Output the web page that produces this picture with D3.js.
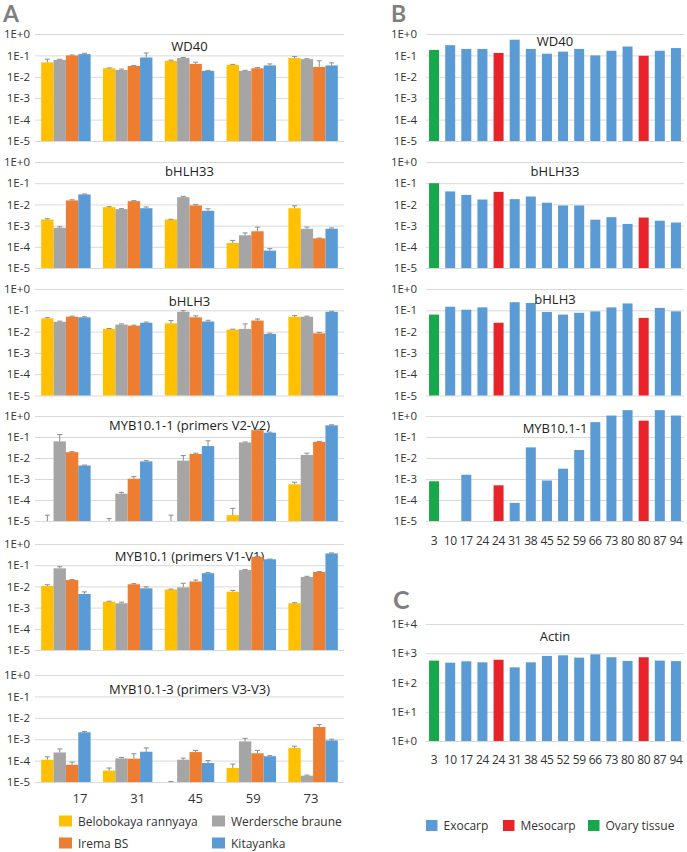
<!DOCTYPE html>
<html><head><meta charset="utf-8">
<script src="https://cdn.jsdelivr.net/npm/d3@7"></script>
<style>body{margin:0;background:#fff;}svg{display:block;font-family:"Open Sans",sans-serif;}</style>
</head><body><svg id="c" width="687" height="852"></svg>
<script>
// ---------- DATA ----------
const stagesA = ["17","31","45","59","73"];
const cultivars = ["Belobokaya rannyaya","Werdersche braune","Irema BS","Kitayanka"];
const tickLabelsA = ["1E+0","1E-1","1E-2","1E-3","1E-4","1E-5"];
const tickValuesA = [1,1e-1,1e-2,1e-3,1e-4,1e-5];
const genesA = ["WD40","bHLH33","bHLH3","MYB10.1-1 (primers V2-V2)","MYB10.1 (primers V1-V1)","MYB10.1-3 (primers V3-V3)"];
// rows: stage, columns: cultivar (value)
const A_WD40 = [[0.047,0.062,0.099,0.115],[0.025,0.021,0.032,0.08],[0.056,0.075,0.04,0.019],[0.036,0.019,0.025,0.034],[0.075,0.067,0.029,0.034]];
const A_WD40_err = [[0.067,0.066,0.104,0.125],[0.026,0.023,0.034,0.13],[0.06,0.08,0.048,0.02],[0.038,0.02,0.027,0.04],[0.088,0.07,0.056,0.045]];
const A_bHLH33 = [[0.00195,0.00079,0.0154,0.0295],[0.0074,0.006,0.0142,0.0066],[0.00195,0.022,0.0089,0.005],[0.000151,0.00035,0.00054,0.000066],[0.0066,0.00071,0.00025,0.00071]];
const A_bHLH33_err = [[0.0021,0.00088,0.0165,0.031],[0.0078,0.0063,0.015,0.0076],[0.002,0.024,0.0098,0.0062],[0.0002,0.00045,0.00085,0.000082],[0.0086,0.00085,0.00026,0.00078]];
const A_bHLH3 = [[0.042,0.029,0.05,0.047],[0.0134,0.0213,0.019,0.026],[0.0245,0.085,0.047,0.03],[0.0124,0.0134,0.033,0.0078],[0.049,0.05,0.0083,0.085]];
const A_bHLH3_err = [[0.045,0.031,0.053,0.05],[0.014,0.023,0.02,0.028],[0.033,0.095,0.055,0.034],[0.013,0.023,0.039,0.0084],[0.056,0.053,0.0092,0.09]];
const A_MYB11 = [[0,0.062,0.019,0.0044],[0,0.0002,0.00103,0.0069],[0,0.0075,0.0155,0.037],[0.000019,0.055,0.21,0.16],[0.00056,0.014,0.059,0.36]];
const A_MYB11_err = [[0.000019,0.13,0.02,0.0046],[0.000013,0.00023,0.0013,0.0075],[0.000019,0.013,0.017,0.066],[0.00004,0.058,0.22,0.17],[0.0007,0.017,0.062,0.38]];
const A_MYB1 = [[0.0105,0.071,0.02,0.0044],[0.0019,0.0016,0.0126,0.0081],[0.0072,0.009,0.017,0.042],[0.0056,0.059,0.25,0.19],[0.0016,0.028,0.048,0.36]];
const A_MYB1_err = [[0.012,0.085,0.021,0.0055],[0.002,0.0018,0.0135,0.0095],[0.0075,0.014,0.02,0.045],[0.0065,0.062,0.26,0.195],[0.0017,0.03,0.05,0.38]];
const A_MYB13 = [[0.00011,0.00024,0.000064,0.0021],[0.000034,0.000126,0.000123,0.00026],[0,0.00011,0.00025,0.000077],[0.000045,0.00079,0.00022,0.00016],[0.00039,0.0000197,0.0037,0.00088]];
const A_MYB13_err = [[0.00015,0.00035,0.000085,0.0023],[0.000045,0.00014,0.00021,0.00039],[0.0000105,0.00013,0.0003,0.0001],[0.000069,0.0011,0.0003,0.00017],[0.00047,0.000021,0.0048,0.001]];

const stagesB = ["3","10","17","24","24","31","38","45","52","59","66","73","80","80","87","94"];
const tissueB = ["Ovary tissue","Exocarp","Exocarp","Exocarp","Mesocarp","Exocarp","Exocarp","Exocarp","Exocarp","Exocarp","Exocarp","Exocarp","Exocarp","Mesocarp","Exocarp","Exocarp"];
const tissues = ["Exocarp","Mesocarp","Ovary tissue"];
const genesB = ["WD40","bHLH33","bHLH3","MYB10.1-1"];
const B_WD40 = [0.18,0.30,0.20,0.20,0.13,0.54,0.20,0.12,0.15,0.20,0.10,0.165,0.26,0.096,0.165,0.22];
const B_bHLH33 = [0.1,0.041,0.028,0.017,0.039,0.0177,0.0236,0.012,0.0089,0.0089,0.0019,0.0025,0.0012,0.0024,0.0017,0.0014];
const B_bHLH3 = [0.063,0.147,0.107,0.137,0.026,0.24,0.22,0.083,0.063,0.076,0.089,0.137,0.21,0.044,0.13,0.089];
const B_MYB11 = [0.00078,0,0.0016,0,0.0005,0.000073,0.032,0.00085,0.0031,0.024,0.51,1.05,1.9,0.6,1.9,1.05];
const geneC = "Actin";
const C_Actin = [560,476,530,490,600,330,490,810,850,710,920,730,545,730,560,540];
const tickLabelsC = ["1E+4","1E+3","1E+2","1E+1","1E+0"];
const tickValuesC = [1e4,1e3,1e2,1e1,1];

// ---------- STYLE / LAYOUT ----------
const cultColor = ["#FFC000","#A5A5A5","#ED7D31","#5B9BD5"];
const tissueColor = {"Exocarp":"#5B9BD5","Mesocarp":"#E8232A","Ovary tissue":"#17A84C"};
const svg = d3.select("#c");
const gridColor = "#D9D9D9", textColor = "#333";

const A = {x0:35, x1:344, labelPad:5,
  tops:[34,162,289,416,544,675], bots:[141,268,395.5,521,650,782],
  titleDy:[17,14,17,14,17,19]};
const B = {x0:426, x1:684, labelPad:9,
  tops:[34,162,289,416], bots:[141,268,395.5,521], titleDy:[12,14,15,17]};

function yAxis(g, y, x0, x1, vals, labs, pad){
  const ax = d3.axisLeft(y).tickValues(vals).tickFormat((d,i)=>labs[i])
     .tickSize(-(x1-x0)).tickPadding(pad);
  const gg = g.append("g").attr("transform",`translate(${x0},0)`).call(ax);
  gg.select(".domain").remove();
  gg.selectAll(".tick line").attr("stroke",gridColor).attr("stroke-width",1);
  gg.selectAll(".tick text").attr("fill",textColor).style("font-size","11.5px").style("font-family","Open Sans");
}

// ---------- PANEL A ----------
const gA = svg.append("g");
const xA = d3.scaleBand().domain(stagesA).range([A.x0,A.x1]).paddingInner(0.2).paddingOuter(0.1);
const xS = d3.scaleBand().domain(d3.range(4)).range([0,xA.bandwidth()]);
const dataA = [[A_WD40,A_WD40_err],[A_bHLH33,A_bHLH33_err],[A_bHLH3,A_bHLH3_err],[A_MYB11,A_MYB11_err],[A_MYB1,A_MYB1_err],[A_MYB13,A_MYB13_err]];
dataA.forEach(([vals,errs],p)=>{
  const y = d3.scaleLog().domain([1e-5,1]).range([A.bots[p],A.tops[p]]);
  yAxis(gA,y,A.x0,A.x1,tickValuesA,tickLabelsA,A.labelPad);
  gA.append("text").attr("x",(A.x0+A.x1)/2).attr("y",A.tops[p]+A.titleDy[p])
    .attr("text-anchor","middle").attr("fill","#222").style("font-size","13px").text(genesA[p]);
  stagesA.forEach((s,i)=>{
    vals[i].forEach((v,k)=>{
      const x = xA(s)+xS(k), w = xS.bandwidth();
      if(v>=1e-5){
        gA.append("rect").attr("x",x).attr("y",y(v)).attr("width",w).attr("height",y(1e-5)-y(v)).attr("fill",cultColor[k]);
      }
      const e = errs[i][k];
      const yb = v>=1e-5 ? y(v) : y(1e-5);
      const ye = y(Math.max(e,1e-5));
      const cx = x+w/2;
      gA.append("line").attr("x1",cx).attr("x2",cx).attr("y1",yb).attr("y2",ye).attr("stroke","#8c8c8c").attr("stroke-width",1);
      gA.append("line").attr("x1",cx-2.5).attr("x2",cx+2.5).attr("y1",ye).attr("y2",ye).attr("stroke","#8c8c8c").attr("stroke-width",1);
    });
  });
});
// stage labels (separately spaced as in original)
const xLabA = d3.scalePoint().domain(stagesA).range([80,311]);
gA.selectAll("text.xl").data(stagesA).join("text").attr("class","xl")
  .attr("x",d=>xLabA(d)).attr("y",803).attr("text-anchor","middle").attr("fill",textColor)
  .style("font-size","13px").text(d=>d);
// legend A
const legPosA = [[59,821],[212,821],[59,843],[212,843]];
cultivars.forEach((c,i)=>{
  const [lx,ly]=legPosA[i];
  gA.append("rect").attr("x",lx).attr("y",ly-5.5).attr("width",13).attr("height",11).attr("fill",cultColor[i]);
  gA.append("text").attr("x",lx+19).attr("y",ly+4.5).attr("fill",textColor).style("font-size","12px").text(c);
});
gA.append("text").attr("x",3).attr("y",22).attr("fill","#7f7f7f").style("font-family","Lato").style("font-size","23px").style("font-weight","bold").text("A");

// ---------- PANEL B ----------
const gB = svg.append("g");
const idx = d3.range(stagesB.length);
const xB = d3.scaleBand().domain(idx).range([B.x0,B.x1]).paddingInner(0.38).paddingOuter(0.19);
[B_WD40,B_bHLH33,B_bHLH3,B_MYB11].forEach((vals,p)=>{
  const y = d3.scaleLog().domain([1e-5,1]).range([B.bots[p],B.tops[p]]);
  yAxis(gB,y,B.x0,B.x1,tickValuesA,tickLabelsA,B.labelPad);
  gB.selectAll(null).data(idx.filter(i=>vals[i]>=1e-5)).join("rect")
    .attr("x",i=>xB(i)).attr("width",xB.bandwidth())
    .attr("y",i=>y(vals[i])).attr("height",i=>y(1e-5)-y(vals[i]))
    .attr("fill",i=>tissueColor[tissueB[i]]);
  gB.append("text").attr("x",(B.x0+B.x1)/2).attr("y",B.tops[p]+B.titleDy[p])
    .attr("text-anchor","middle").attr("fill","#222").style("font-size","13px").text(genesB[p]);
});
gB.selectAll("text.xb").data(idx).join("text").attr("class","xb")
  .attr("x",i=>xB(i)+xB.bandwidth()/2).attr("y",544.5).attr("text-anchor","middle")
  .attr("fill",textColor).style("font-size","12px").style("letter-spacing","-0.3px").text(i=>stagesB[i]);
gB.append("text").attr("x",391).attr("y",22).attr("fill","#7f7f7f").style("font-family","Lato").style("font-size","23px").style("font-weight","bold").text("B");

// ---------- PANEL C ----------
const gC = svg.append("g");
const yC = d3.scaleLog().domain([1,1e4]).range([741,624]);
yAxis(gC,yC,B.x0,B.x1,tickValuesC,tickLabelsC,B.labelPad);
gC.selectAll(null).data(idx).join("rect")
  .attr("x",i=>xB(i)).attr("width",xB.bandwidth())
  .attr("y",i=>yC(C_Actin[i])).attr("height",i=>yC(1)-yC(C_Actin[i]))
  .attr("fill",i=>tissueColor[tissueB[i]]);
gC.append("text").attr("x",(B.x0+B.x1)/2).attr("y",641).attr("text-anchor","middle")
  .attr("fill","#222").style("font-size","13px").text(geneC);
gC.selectAll("text.xc").data(idx).join("text").attr("class","xc")
  .attr("x",i=>xB(i)+xB.bandwidth()/2).attr("y",763.5).attr("text-anchor","middle")
  .attr("fill",textColor).style("font-size","12px").style("letter-spacing","-0.3px").text(i=>stagesB[i]);
gC.append("text").attr("x",393).attr("y",609).attr("fill","#7f7f7f").style("font-family","Lato").style("font-size","25px").style("font-weight","bold").text("C");
// legend B
const legPosB = [426,503,588];
tissues.forEach((t,i)=>{
  gC.append("rect").attr("x",legPosB[i]).attr("y",820).attr("width",11.5).attr("height",11).attr("fill",tissueColor[t]);
  gC.append("text").attr("x",legPosB[i]+17.5).attr("y",830).attr("fill",textColor).style("font-size","12px").text(t);
});
</script></body></html>
